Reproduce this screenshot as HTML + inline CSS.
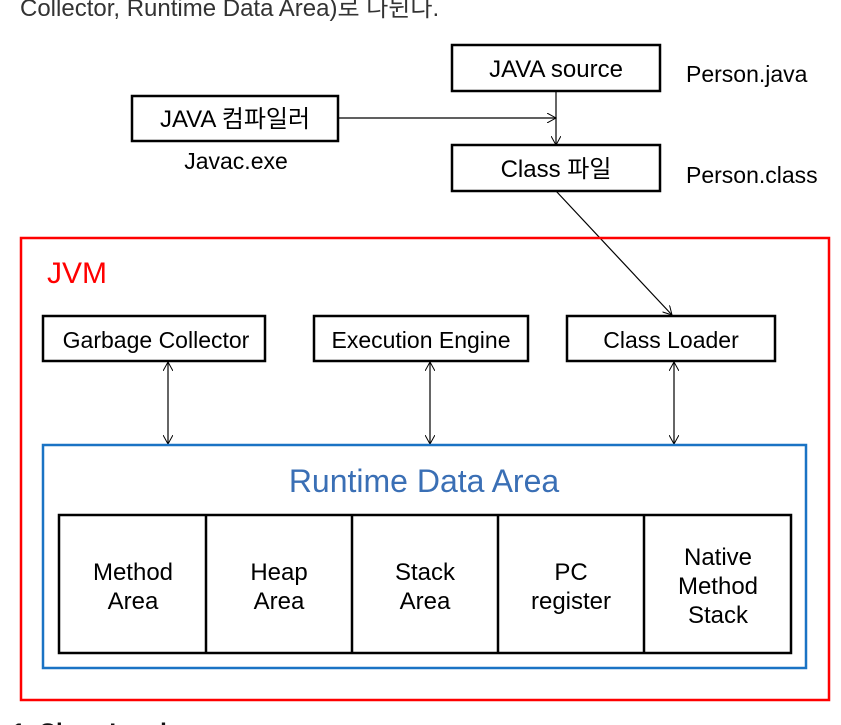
<!DOCTYPE html>
<html><head><meta charset="utf-8"><style>
body{margin:0;width:841px;height:725px;background:#fff;overflow:hidden;position:relative;font-family:"Liberation Sans","Noto Sans CJK KR",sans-serif}
.t{position:absolute;white-space:nowrap}
</style></head><body>
<div class="t" style="left:20px;top:-12px;font-size:24px;color:#333">Collector, Runtime Data Area)로 나뉜다.</div>
<svg width="841" height="725" style="position:absolute;left:0;top:0" font-family="Liberation Sans, Noto Sans CJK KR, sans-serif">
<defs>
<marker id="a" markerWidth="10" markerHeight="10" refX="9" refY="5" orient="auto" markerUnits="userSpaceOnUse"><path d="M0,0 L9,5 L0,10" fill="none" stroke="#000" stroke-width="1"/></marker>
<marker id="s" markerWidth="10" markerHeight="10" refX="1" refY="5" orient="auto" markerUnits="userSpaceOnUse"><path d="M10,0 L1,5 L10,10" fill="none" stroke="#000" stroke-width="1"/></marker>
</defs>
<g fill="#fff" stroke="#000" stroke-width="2.5">
<rect x="452" y="45" width="208" height="46"/>
<rect x="132" y="96" width="206" height="45"/>
<rect x="452" y="145" width="208" height="46"/>
</g>
<g stroke="#000" stroke-width="1.2" fill="none">
<line x1="338" y1="118" x2="556" y2="118" marker-end="url(#a)"/>
<line x1="556" y1="91" x2="556" y2="145" marker-end="url(#a)"/>
<line x1="556" y1="191" x2="672" y2="315" marker-end="url(#a)"/>
</g>
<g font-size="24" fill="#000" text-anchor="middle">
<text x="556" y="77">JAVA source</text>
<text x="235" y="127">JAVA 컴파일러</text>
<text x="556" y="177">Class 파일</text>
<text x="236" y="169" font-size="23">Javac.exe</text>
</g>
<g font-size="23" fill="#000">
<text x="686" y="82">Person.java</text>
<text x="686" y="183">Person.class</text>
</g>
<rect x="21" y="238" width="808" height="462" fill="none" stroke="#f00" stroke-width="2.5"/>
<text x="47" y="283" font-size="30" fill="#f00">JVM</text>
<g fill="#fff" stroke="#000" stroke-width="2.5">
<rect x="43" y="316" width="222" height="45"/>
<rect x="314" y="316" width="214" height="45"/>
<rect x="567" y="316" width="208" height="45"/>
</g>
<g font-size="23" fill="#000" text-anchor="middle">
<text x="156" y="348">Garbage Collector</text>
<text x="421" y="348">Execution Engine</text>
<text x="671" y="348">Class Loader</text>
</g>
<g stroke="#000" stroke-width="1.2">
<line x1="168" y1="362" x2="168" y2="444" marker-start="url(#s)" marker-end="url(#a)"/>
<line x1="430" y1="362" x2="430" y2="444" marker-start="url(#s)" marker-end="url(#a)"/>
<line x1="674" y1="362" x2="674" y2="444" marker-start="url(#s)" marker-end="url(#a)"/>
</g>
<rect x="43" y="445" width="763" height="223" fill="none" stroke="#1a73c4" stroke-width="2.5"/>
<text x="424" y="492" font-size="32" fill="#3a6fb5" text-anchor="middle">Runtime Data Area</text>
<g font-size="24" fill="#000" text-anchor="middle">
<text x="133" y="580">Method</text><text x="133" y="609">Area</text>
<text x="279" y="580">Heap</text><text x="279" y="609">Area</text>
<text x="425" y="580">Stack</text><text x="425" y="609">Area</text>
<text x="571" y="580">PC</text><text x="571" y="609">register</text>
<text x="718" y="565">Native</text><text x="718" y="594">Method</text><text x="718" y="623">Stack</text>
</g>
<g fill="none" stroke="#000" stroke-width="2.5">
<rect x="59" y="515" width="732" height="138"/>
<line x1="206" y1="515" x2="206" y2="653"/>
<line x1="352" y1="515" x2="352" y2="653"/>
<line x1="498" y1="515" x2="498" y2="653"/>
<line x1="644" y1="515" x2="644" y2="653"/>
</g>
<text x="12" y="740" font-size="24" font-weight="bold" fill="#111">1. Class Loader</text>
</svg>
</body></html>
